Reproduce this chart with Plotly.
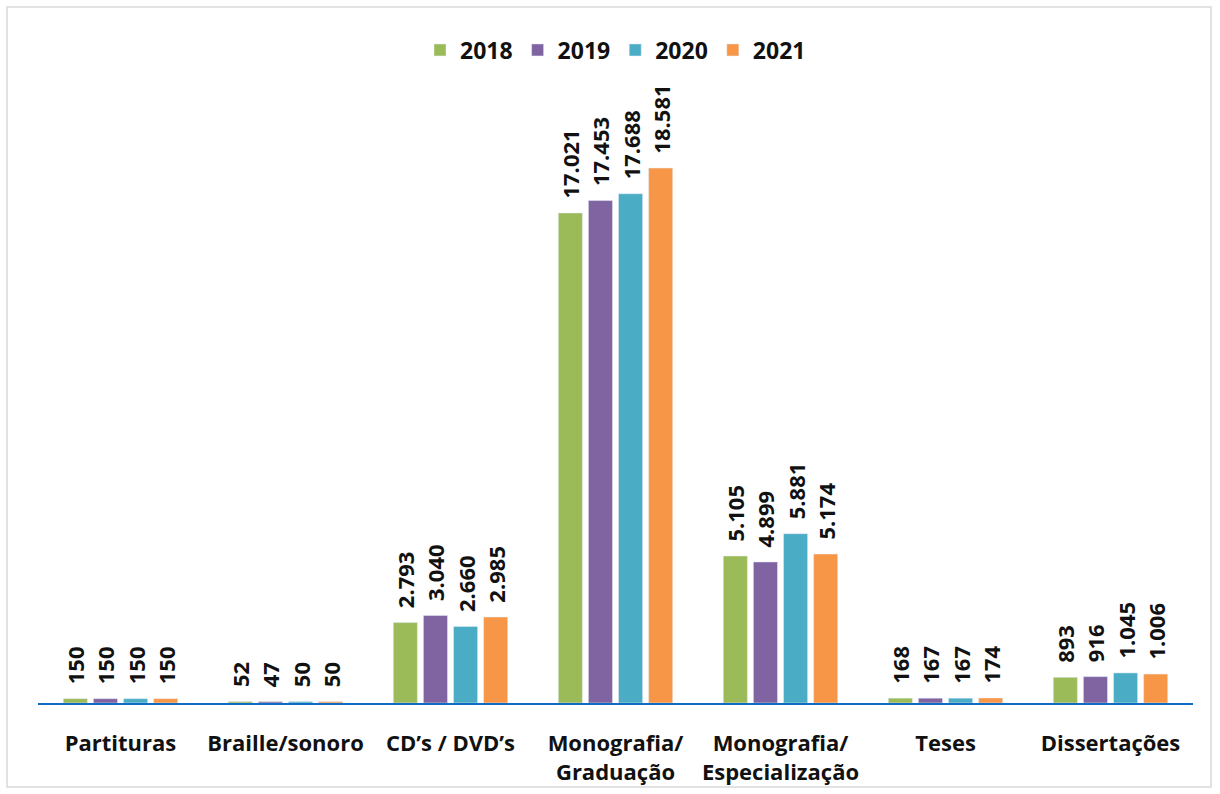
import plotly.graph_objects as go

categories = ["Partituras", "Braille/sonoro", "CD’s / DVD’s", "Monografia/<br>Graduação",
              "Monografia/<br>Especialização", "Teses", "Dissertações"]
years = ["2018", "2019", "2020", "2021"]
v2018 = [150, 52, 2793, 17021, 5105, 168, 893]
v2019 = [150, 47, 3040, 17453, 4899, 167, 916]
v2020 = [150, 50, 2660, 17688, 5881, 167, 1045]
v2021 = [150, 50, 2985, 18581, 5174, 174, 1006]
series = [v2018, v2019, v2020, v2021]
colors = ["#9BBB59", "#8064A2", "#4BACC6", "#F79646"]

FONT = "Open Sans"

fig = go.Figure()
for name, vals, col in zip(years, series, colors):
    fig.add_trace(go.Bar(
        x=categories, y=vals, name=name, marker_color=col,
        texttemplate="\u00a0\u00a0%{y:,}", textposition="outside", textangle=-90,
        constraintext="none", cliponaxis=False,
        textfont=dict(family=FONT, size=22, color="#111111", weight="bold"),
    ))

fig.update_layout(
    width=1220, height=794,
    separators=",.",
    barmode="group", bargap=0.27, bargroupgap=0.2,
    plot_bgcolor="white", paper_bgcolor="white",
    margin=dict(l=38, r=27, t=80, b=91, autoexpand=False),
    legend=dict(orientation="h", x=0.5, xanchor="center",
                yref="container", y=1 - 50 / 794, yanchor="middle",
                bgcolor="rgba(0,0,0,0)",
                font=dict(family=FONT, size=23, color="#111111", weight="bold"),
                traceorder="normal"),
    xaxis=dict(showline=True, linecolor="#0F6CC4", linewidth=2,
               tickfont=dict(family=FONT, size=22, color="#111111", weight="bold"),
               ticks="outside", ticklen=20, tickcolor="rgba(0,0,0,0)", showgrid=False),
    yaxis=dict(range=[0, 21640], visible=False, showgrid=False),
    shapes=[dict(type="rect", xref="paper", yref="paper",
                 x0=-0.0268, x1=1.0156, y0=-0.1348, y1=1.117,
                 line=dict(color="#D9D9D9", width=1.5))],
)

fig.write_html("out.html", config={"displayModeBar": False},
               post_script="document.body.style.margin='0';")
